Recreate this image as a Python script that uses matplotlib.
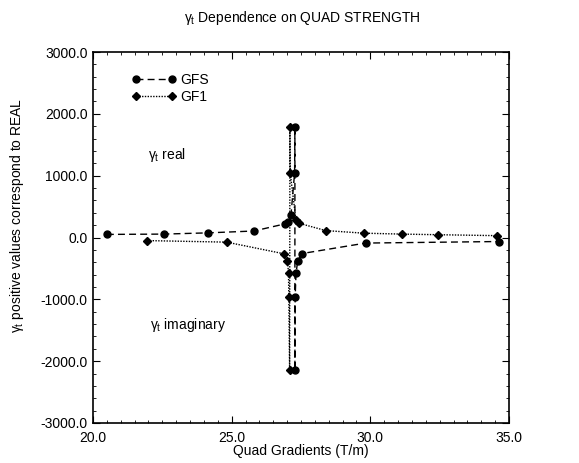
import matplotlib
matplotlib.use("Agg")
import matplotlib.pyplot as plt
from matplotlib.ticker import MultipleLocator

plt.rcParams['font.family'] = ['Liberation Sans', 'DejaVu Sans']
plt.rcParams['mathtext.fontset'] = 'custom'
plt.rcParams['mathtext.rm'] = 'Liberation Sans'
plt.rcParams['mathtext.it'] = 'Liberation Sans'

# GFS (cercles, tirets)
gfs_x = [20.5, 22.55, 24.15, 25.8, 26.92, 27.03, 27.14, 27.27, 27.28,
         27.28, 27.29, 27.32, 27.38, 27.53, 29.83, 34.65]
gfs_y = [50, 55, 75, 105, 220, 250, 370, 1050, 1780,
         -2150, -960, -580, -385, -260, -90, -65]

# GF1 (losanges, pointillés)
gf1_x = [21.95, 24.82, 26.87, 27.01, 27.05, 27.06, 27.09,
         27.1, 27.11, 27.32, 27.43, 28.39, 29.76, 31.13, 32.45, 34.55]
gf1_y = [-50, -75, -262, -380, -570, -960, -2150,
         1780, 1050, 275, 230, 112, 70, 55, 45, 30]

fig = plt.figure(figsize=(5.79, 4.63), dpi=100)
ax = fig.add_axes([93 / 579, 1 - 423 / 463, 416 / 579, 371 / 463])

ax.plot(gfs_x, gfs_y, linestyle=(0, (5, 3)), color='black', linewidth=1.0,
        marker='o', markersize=5, label='GFS')
ax.plot(gf1_x, gf1_y, linestyle=(0, (1, 1)), color='black', linewidth=1.0,
        marker='D', markersize=3.8, label='GF1')

ax.set_xlim(20, 35)
ax.set_ylim(-3000, 3000)
ax.xaxis.set_major_locator(MultipleLocator(5))
ax.xaxis.set_minor_locator(MultipleLocator(0.5))
ax.yaxis.set_major_locator(MultipleLocator(1000))
ax.yaxis.set_minor_locator(MultipleLocator(200))
ax.xaxis.set_major_formatter(plt.FormatStrFormatter('%.1f'))
ax.yaxis.set_major_formatter(plt.FormatStrFormatter('%.1f'))
ax.tick_params(which='both', direction='in', top=True, right=True, labelsize=10)
ax.tick_params(axis='x', pad=6)
ax.tick_params(axis='y', pad=4)
ax.tick_params(which='major', length=5)
ax.tick_params(which='minor', length=2.5)
for s in ax.spines.values():
    s.set_linewidth(1.2)

ax.text(21.98, 1335, r'$\gamma_t$ real', fontsize=10, va='center')
ax.text(22.05, -1420, r'$\gamma_t$ imaginary', fontsize=10, va='center')

ax.legend(loc='upper left', bbox_to_anchor=(0.07, 0.97), frameon=False,
          numpoints=2, handlelength=3.2, fontsize=10, borderpad=0.2,
          labelspacing=0.2, handletextpad=0.3)

fig.text(302 / 579, 1 - 18 / 463, r'$\gamma_t$ Dependence on QUAD STRENGTH',
         ha='center', va='center', fontsize=10)
fig.text(17 / 579, 1 - 215 / 463, r'$\gamma_t$ positive values correspond to REAL',
         rotation=90, ha='center', va='center', fontsize=10)
fig.text(301 / 579, 1 - 451 / 463, 'Quad Gradients (T/m)',
         ha='center', va='center', fontsize=10)

fig.savefig('out.png', dpi=100)
